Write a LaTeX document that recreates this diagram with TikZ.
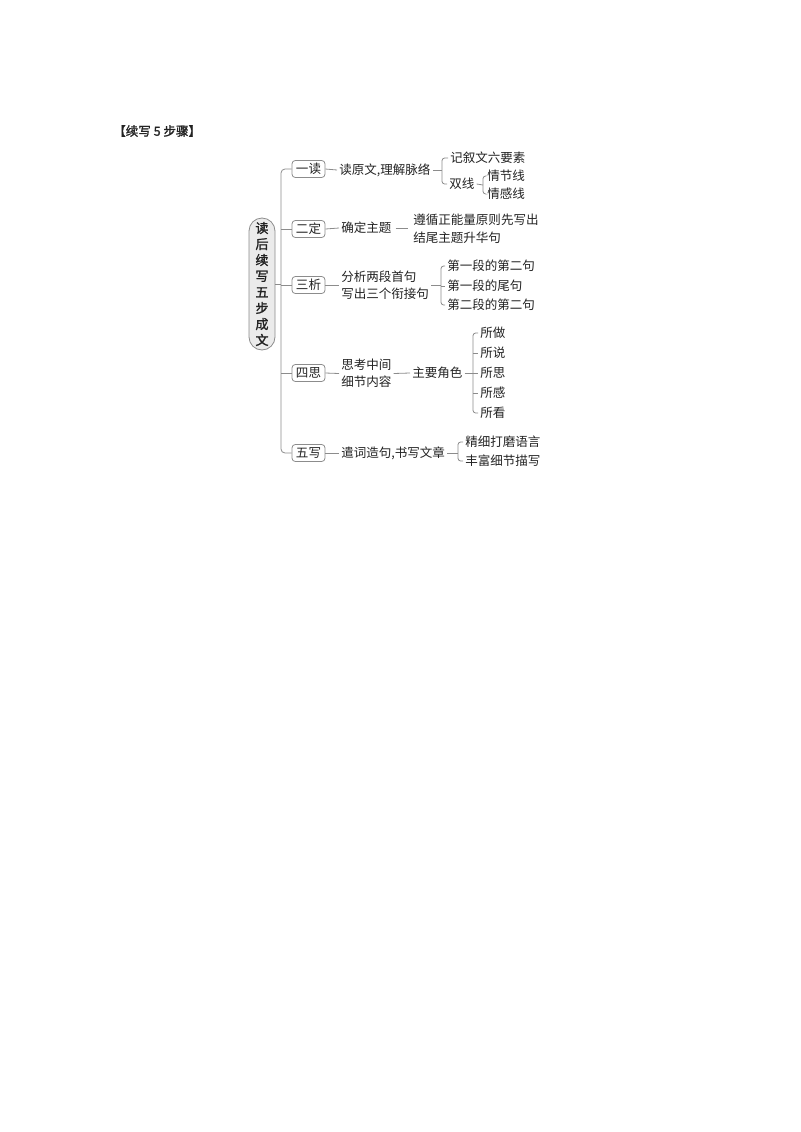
\documentclass[tikz,border=0pt]{standalone}
\usepackage{fontspec}
\setmainfont{Noto Sans CJK SC}
\newfontfamily\cjkb[FakeBold=1.5]{Noto Sans CJK SC}
\definecolor{ln}{HTML}{8C8C8C}
\definecolor{tx}{HTML}{222222}
\begin{document}
\begin{tikzpicture}[x=0.75pt,y=-0.75pt,
  every node/.style={text=tx},
  conn/.style={draw=ln,line width=0.6pt},
  stepbox/.style={draw=ln,line width=0.6pt,rounded corners=2.5pt,minimum width=24.75pt,minimum height=12.75pt,inner sep=0pt,font=\fontsize{9.4}{11}\selectfont},
  txt/.style={anchor=west,inner sep=1.5pt,font=\fontsize{9.4}{12.75}\selectfont,align=left},
  txtw/.style={anchor=west,inner sep=1.5pt,font=\fontsize{9.4}{13.9}\selectfont,align=left},
  rootbox/.style={draw=ln,fill=black!8,line width=0.6pt,rounded corners=9.75pt,minimum width=19.5pt,minimum height=99pt,inner sep=0pt,align=center,font=\cjkb\fontsize{9.8}{12}\selectfont}
]
\useasboundingbox (0,0) rectangle (800,1132);
\node[anchor=west,inner sep=0pt,font=\cjkb\fontsize{9.4}{11}\selectfont] (title) at (113,131) {【续写 5 步骤】};

\node[rootbox] (root) at (262,284) {读\\后\\续\\写\\五\\步\\成\\文};

\node[stepbox] (b1) at (308.5,169) {一读};
\node[stepbox] (b2) at (308.5,229) {二定};
\node[stepbox] (b3) at (308.5,285) {三析};
\node[stepbox] (b4) at (308.5,373) {四思};
\node[stepbox] (b5) at (308.5,453) {五写};

\coordinate (tk1) at (281,169);
\coordinate (tk2) at (281,229);
\coordinate (tk3) at (281,285);
\coordinate (tk4) at (281,373);
\coordinate (tk5) at (281,453);
\draw[conn,rounded corners=3pt] (b1.west) -- (tk1) -- (tk5) -- (b5.west);
\draw[conn] (tk2) -- (b2.west);
\draw[conn] (tk3) -- (b3.west);
\draw[conn] (tk4) -- (b4.west);
\draw[conn] (root.east) -- (root.east -| tk3);

% item 1
\node[txt] (t1) at (337,170) {读原文,理解脉络};
\node[txt] (t1a) at (448,158) {记叙文六要素};
\node[txt] (t1b) at (447,184) {双线};
\node[txt] (t1b1) at (485,176) {情节线};
\node[txt] (t1b2) at (485,194) {情感线};
\coordinate (k1) at (442,170);
\coordinate (k1a) at (442,158);
\coordinate (k1b) at (442,184);
\draw[conn] (b1.east) -- (t1.west);
\draw[conn] (t1.east) -- (k1);
\draw[conn,rounded corners=2pt] (t1a.west) -- (k1a) -- (k1b) -- (t1b.west);
\coordinate (k11) at (483,185);
\coordinate (k11a) at (483,176);
\coordinate (k11b) at (483,194);
\draw[conn] (t1b.east) -- (k11);
\draw[conn,rounded corners=2pt] (t1b1.west) -- (k11a) -- (k11b) -- (t1b2.west);

% item 2
\node[txt] (t2) at (339,228) {确定主题};
\node[txtw] (t2x) at (411,228.5) {遵循正能量原则先写出\\结尾主题升华句};
\draw[conn] (b2.east) -- (t2.west);
\draw[conn] (t2.east) ++(2,0) -- ([xshift=-2]t2x.west |- t2.east);

% item 3
\node[txt] (t3) at (339,285) {分析两段首句\\写出三个衔接句};
\node[txt] (t3a) at (445,266) {第一段的第二句};
\node[txt] (t3b) at (445,286) {第一段的尾句};
\node[txt] (t3c) at (445,305) {第二段的第二句};
\coordinate (k3) at (441,285);
\coordinate (k3a) at (441,266);
\coordinate (k3c) at (441,305);
\draw[conn] (b3.east) -- (t3.west);
\draw[conn] (t3.east) -- (k3);
\draw[conn,rounded corners=2pt] (t3a.west) -- (k3a) -- (k3c) -- (t3c.west);
\draw[conn] (k3 |- t3b.west) -- (t3b.west);

% item 4
\node[txt] (t4) at (339,373.5) {思考中间\\细节内容};
\node[txt] (t4b) at (410,373) {主要角色};
\node[txt] (t4_1) at (478,333) {所做};
\node[txt] (t4_2) at (478,353) {所说};
\node[txt] (t4_3) at (478,373) {所思};
\node[txt] (t4_4) at (478,393) {所感};
\node[txt] (t4_5) at (478,413) {所看};
\coordinate (k4) at (473,373);
\coordinate (k4a) at (473,333);
\coordinate (k4e) at (473,413);
\draw[conn] (b4.east) -- (t4.west);
\draw[conn] (t4.east) -- (t4b.west);
\draw[conn] (t4b.east) -- (k4);
\draw[conn,rounded corners=2pt] (t4_1.west) -- (k4a) -- (k4e) -- (t4_5.west);
\draw[conn] (k4 |- t4_2.west) -- (t4_2.west);
\draw[conn] (k4 |- t4_3.west) -- (t4_3.west);
\draw[conn] (k4 |- t4_4.west) -- (t4_4.west);

% item 5
\node[txt] (t5) at (339,453) {遣词造句,书写文章};
\node[txt] (t5a) at (463,442) {精细打磨语言};
\node[txt] (t5b) at (463,461) {丰富细节描写};
\coordinate (k5) at (458,453);
\coordinate (k5a) at (458,442);
\coordinate (k5b) at (458,461);
\draw[conn] (b5.east) -- (t5.west);
\draw[conn] (t5.east) -- (k5);
\draw[conn,rounded corners=2pt] (t5a.west) -- (k5a) -- (k5b) -- (t5b.west);
\end{tikzpicture}
\end{document}
